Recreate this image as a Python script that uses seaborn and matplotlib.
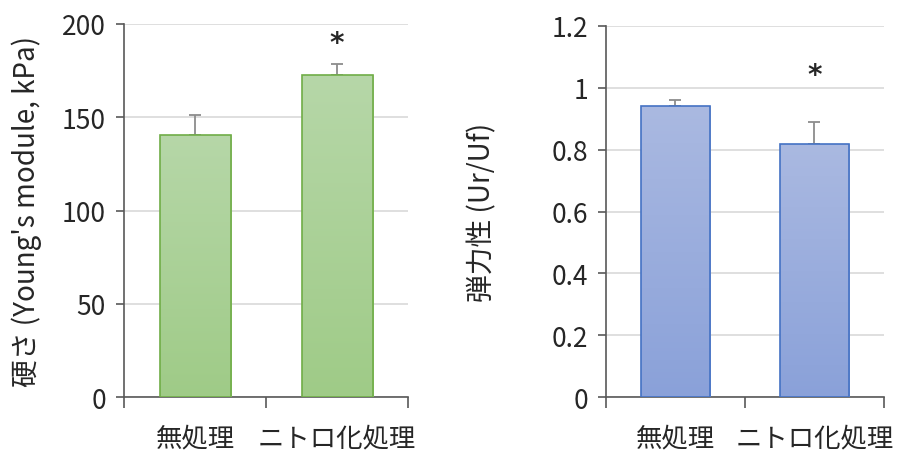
import numpy as np
import pandas as pd
import matplotlib
matplotlib.use('Agg')
import matplotlib.pyplot as plt
from matplotlib.colors import LinearSegmentedColormap
import seaborn as sns

# data
categories = ['無処理', 'ニトロ化処理']
hardness = [140.5, 172.5]
hardness_err = [10.5, 6.0]
elasticity = [0.94, 0.817]
elasticity_err = [0.022, 0.073]

sns.set_style('white')
plt.rcParams['font.family'] = ['Noto Sans CJK JP', 'DejaVu Sans']

fig = plt.figure(figsize=(9.2, 4.77), dpi=100)
ax1 = fig.add_axes([0.1348, 0.1656, 0.3087, 0.782])
ax2 = fig.add_axes([0.6587, 0.1656, 0.3020, 0.7778])


def draw_panel(ax, vals, errs, edge, top_col, bot_col, ylim, yticks, ticklabels, ylabel, star_y):
    df = pd.DataFrame({'cat': categories, 'val': vals})
    sns.barplot(data=df, x='cat', y='val', ax=ax, width=0.5, color=top_col,
                edgecolor=edge, linewidth=1.2, errorbar=None, zorder=3)
    ax.set_ylim(*ylim)
    ax.set_xlim(-0.5, 1.5)
    cmap = LinearSegmentedColormap.from_list('g', [bot_col, top_col])
    grad = np.linspace(0, 1, 256).reshape(-1, 1)
    for p, v, e in zip(ax.patches, vals, errs):
        x0 = p.get_x()
        w = p.get_width()
        im = ax.imshow(grad, extent=[x0, x0 + w, 0, v], origin='lower', cmap=cmap,
                       aspect='auto', zorder=3.5)
        im.set_clip_path(p)
        p.set_facecolor('none')
        p.set_zorder(4)
        ax.errorbar(x0 + w / 2, v, yerr=[[0], [e]], fmt='none', ecolor='#8c8c8c',
                    elinewidth=1.3, capsize=4, capthick=1.3, zorder=2.5)
    ax.set_xlim(-0.5, 1.5)
    ax.set_ylim(*ylim)
    ax.set_yticks(yticks)
    ax.set_yticklabels(ticklabels, fontsize=19)
    ax.yaxis.grid(True, color='#d9d9d9', linewidth=1.2, zorder=0)
    ax.set_axisbelow(True)
    for s in ['top', 'right']:
        ax.spines[s].set_visible(False)
    for s in ['left', 'bottom']:
        ax.spines[s].set_color('#595959')
        ax.spines[s].set_linewidth(1.2)
    ax.tick_params(axis='y', left=True, length=6, width=1.2, color='#595959', pad=7)
    ax.set_xticks([0, 1])
    ax.set_xticklabels(categories, fontsize=19)
    ax.set_xticks([-0.5, 0.5, 1.5], minor=True)
    ax.tick_params(axis='x', which='major', length=0, pad=20)
    ax.tick_params(axis='x', which='minor', bottom=True, length=8, width=1.2, color='#595959')
    ax.set_xlabel('')
    ax.set_ylabel(ylabel, fontsize=20)
    ax.text(1, star_y, '*', ha='center', va='center', fontsize=20, fontweight='bold',
            family='DejaVu Sans')


draw_panel(ax1, hardness, hardness_err, '#70ad47', '#b6d7a8', '#9fcb87',
           (0, 200), [0, 50, 100, 150, 200], ['0', '50', '100', '150', '200'],
           "硬さ (Young's module, kPa)", 190)
ax1.yaxis.set_label_coords(-0.29, 0.5)

draw_panel(ax2, elasticity, elasticity_err, '#4472c4', '#aab9e1', '#8aa1d9',
           (0, 1.2), [0, 0.2, 0.4, 0.6, 0.8, 1.0, 1.2],
           ['0', '0.2', '0.4', '0.6', '0.8', '1', '1.2'],
           '弾力性 (Ur/Uf)', 1.04)
ax2.yaxis.set_label_coords(-0.39, 0.5)

fig.savefig('out.png', dpi=100)
